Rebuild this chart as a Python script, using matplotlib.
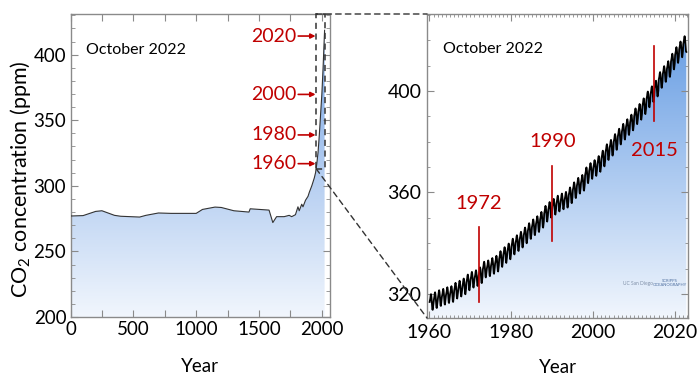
import numpy as np
import matplotlib
matplotlib.use("Agg")
import matplotlib.pyplot as plt
from matplotlib.colors import LinearSegmentedColormap
from matplotlib.patches import Rectangle, ConnectionPatch
from matplotlib.ticker import MultipleLocator, FuncFormatter

plt.rcParams['font.family'] = ['Lato', 'DejaVu Sans']
plt.rcParams['mathtext.default'] = 'regular'

# Long record (ice cores + instrumental), year / ppm
hist_years = [0, 100, 200, 250, 350, 400, 550, 600, 700, 800, 1000, 1050, 1150, 1200,
              1300, 1420, 1430, 1580, 1610, 1640, 1700, 1740, 1760, 1790, 1810, 1820,
              1840, 1850, 1870, 1890, 1900, 1920, 1940, 1950, 1960, 1970, 1980, 1990,
              2000, 2010, 2020, 2022]
hist_ppm = [277.0, 277.3, 280.5, 281.0, 277.5, 276.8, 276.2, 277.5, 279.3, 279.0, 279.0,
            282.0, 283.8, 283.5, 281.0, 280.0, 282.5, 281.5, 272.0, 276.5, 276.5, 277.5,
            276.5, 278.0, 284.0, 281.0, 286.0, 284.0, 289.0, 292.0, 295.0, 300.0, 306.0,
            310.0, 316.9, 325.7, 338.8, 354.4, 369.7, 390.1, 414.2, 418.6]

arrow_years = ['2020', '2000', '1980', '1960']
arrow_ppm = [414.2, 369.7, 338.8, 316.9]

# Mauna Loa annual means 1960-2022 and mean seasonal cycle (Jan..Dec)
ml_years = list(range(1960, 2023))
ml_annual = [316.91, 317.64, 318.45, 318.99, 319.62, 320.04, 321.37, 322.18, 323.05, 324.62,
             325.68, 326.32, 327.46, 329.68, 330.19, 331.13, 332.03, 333.84, 335.41, 336.84,
             338.76, 340.12, 341.48, 343.15, 344.87, 346.35, 347.61, 349.31, 351.69, 353.20,
             354.45, 355.70, 356.54, 357.21, 358.96, 360.97, 362.74, 363.88, 366.84, 368.54,
             369.71, 371.32, 373.45, 375.98, 377.70, 379.98, 382.09, 384.02, 385.83, 387.64,
             390.10, 391.85, 394.06, 396.74, 398.81, 401.01, 404.41, 406.76, 408.72, 411.66,
             414.24, 416.45, 418.56]
seasonal = [-0.1, 0.5, 1.3, 2.5, 3.0, 2.3, 0.8, -1.3, -3.0, -3.2, -2.0, -0.8]
last_month = 10  # record ends October 2022

mark_years = [1972, 1990, 2015]
mark_lo = [317, 341, 388]
mark_hi = [346.5, 370.5, 417.5]
mark_text_y = [355.5, 380, 376.5]

t, co2 = [], []
for yr, mean in zip(ml_years, ml_annual):
    n = last_month if yr == 2022 else 12
    for m in range(n):
        t.append(yr + (m + 0.5) / 12)
        co2.append(mean + seasonal[m])
t = np.array(t)
co2 = np.array(co2)

red = '#c00000'
spine_col = '#8a8a8a'

fig = plt.figure(figsize=(6.97, 3.77), dpi=100)
ax1 = fig.add_axes([70.5 / 697, 1 - 317 / 377, 259 / 697, 303 / 377])
ax2 = fig.add_axes([427 / 697, 1 - 318 / 377, 261 / 697, 304 / 377])


def gradient_fill(ax, x, y, y0, y1, c0, c1, base):
    cmap = LinearSegmentedColormap.from_list('g', [c0, c1])
    xl = ax.get_xlim()
    grad = np.linspace(0, 1, 256).reshape(-1, 1)
    im = ax.imshow(grad, cmap=cmap, aspect='auto', origin='lower',
                   extent=[xl[0], xl[1], y0, y1], zorder=1)
    poly = ax.fill_between(x, base, y, color='none', lw=0)
    im.set_clip_path(poly.get_paths()[0], transform=ax.transData)


# ---- left panel
ax1.set_xlim(0, 2061)
ax1.set_ylim(200, 431)
gradient_fill(ax1, hist_years, hist_ppm, 200, 431, '#f1f6fd', '#6e9fe3', 200)
ax1.plot(hist_years, hist_ppm, color='#333333', lw=0.8, zorder=3)
ax1.set_xlim(0, 2061)
ax1.set_ylim(200, 431)

ax1.xaxis.set_major_locator(MultipleLocator(250))
ax1.xaxis.set_major_formatter(FuncFormatter(lambda v, p: f'{int(v)}' if v % 500 == 0 else ''))
ax1.yaxis.set_major_locator(MultipleLocator(50))
ax1.yaxis.set_minor_locator(MultipleLocator(10))
ax1.tick_params(which='both', direction='in', top=True, right=True, color=spine_col)
ax1.tick_params(which='major', length=5, labelsize=13.5, pad=3)
ax1.tick_params(which='minor', length=3)
ax1.set_xlabel('Year', fontsize=13.5, labelpad=14)
ax1.set_ylabel('CO$_2$ concentration (ppm)', fontsize=15.5)
ax1.yaxis.set_label_coords(-0.145, 0.455)
ax1.text(0.06, 0.88, 'October 2022', transform=ax1.transAxes, fontsize=11.5, va='center')

for lab, v in zip(arrow_years, arrow_ppm):
    ax1.text(1800, v, lab, color=red, fontsize=14, ha='right', va='center')
    ax1.annotate('', xy=(1950, v), xytext=(1812, v),
                 arrowprops=dict(arrowstyle='-|>', color=red, lw=1.2,
                                 mutation_scale=7, shrinkA=0, shrinkB=0))

box = Rectangle((1955, 313), 67, 431 - 313, fill=False, ls=(0, (4, 3)), lw=1.1,
                ec='#333333', zorder=5, clip_on=False)
ax1.add_patch(box)

# ---- right panel
ax2.set_xlim(1959.4, 2023.2)
ax2.set_ylim(310.5, 430.3)
gradient_fill(ax2, t, co2, 310.5, 430.3, '#f1f6fd', '#5f98e2', 310.5)
ax2.plot(t, co2, color='black', lw=1.3, zorder=3)
ax2.set_xlim(1959.4, 2023.2)
ax2.set_ylim(310.5, 430.3)

ax2.xaxis.set_major_locator(MultipleLocator(20))
ax2.xaxis.set_minor_locator(MultipleLocator(1))
ax2.yaxis.set_major_locator(MultipleLocator(40))
ax2.yaxis.set_minor_locator(MultipleLocator(10))
ax2.tick_params(which='both', direction='in', top=True, right=True, color=spine_col)
ax2.tick_params(which='major', length=5, labelsize=14, pad=4)
ax2.tick_params(which='minor', length=2.5)
ax2.set_xlabel('Year', fontsize=13.5, labelpad=13)
ax2.text(0.06, 0.885, 'October 2022', transform=ax2.transAxes, fontsize=11.5, va='center')

for yr, lo, hi, ty in zip(mark_years, mark_lo, mark_hi, mark_text_y):
    ax2.plot([yr, yr], [lo, hi], color=red, lw=1.2, zorder=4)
    ax2.text(yr, ty, str(yr), color=red, fontsize=14.5, ha='center', va='center', zorder=4)

ax2.text(0.81, 0.115, 'UC San Diego', transform=ax2.transAxes, fontsize=3.5,
         color='#8090a8', ha='center', va='center')
ax2.text(0.93, 0.115, 'SCRIPPS\nOCEANOGRAPHY', transform=ax2.transAxes, fontsize=3,
         color='#5070a0', ha='center', va='center', linespacing=0.9)

for ax in (ax1, ax2):
    for s in ax.spines.values():
        s.set_color(spine_col)
        s.set_linewidth(1.0)

# dashed zoom connectors
for xyA, xyB in [((1955, 431), (0, 1)), ((1955, 313), (0, 0))]:
    cp = ConnectionPatch(xyA=xyA, coordsA=ax1.transData, xyB=xyB, coordsB=ax2.transAxes,
                         ls=(0, (4, 3)), lw=1.0, color='#333333', zorder=6)
    fig.add_artist(cp)

fig.savefig('out.png', dpi=100)
